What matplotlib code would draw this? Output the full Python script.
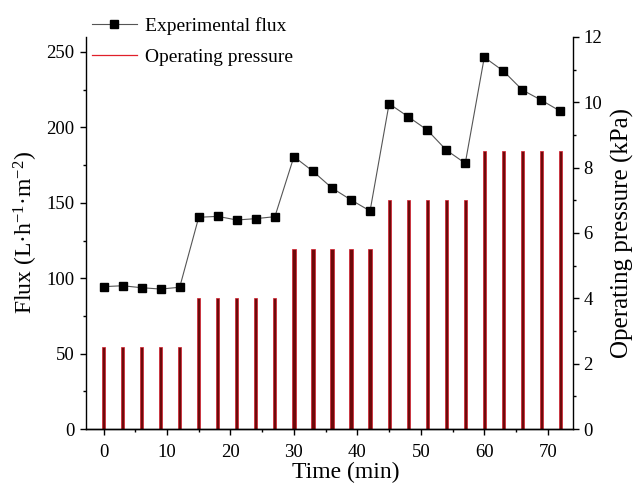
import matplotlib
matplotlib.use("Agg")
import matplotlib.pyplot as plt
from matplotlib.lines import Line2D
from matplotlib.ticker import MultipleLocator

plt.rcParams['font.family'] = ['Liberation Serif', 'DejaVu Serif']
plt.rcParams['mathtext.fontset'] = 'custom'
plt.rcParams['mathtext.rm'] = 'Liberation Serif'
plt.rcParams['mathtext.it'] = 'Liberation Serif:italic'

time_min = [0, 3, 6, 9, 12, 15, 18, 21, 24, 27, 30, 33, 36, 39, 42,
            45, 48, 51, 54, 57, 60, 63, 66, 69, 72]
flux = [94.4, 95.0, 93.7, 92.8, 94.0,
        140.4, 141.0, 138.6, 139.5, 140.8,
        180.6, 170.9, 159.8, 151.9, 144.6,
        215.7, 207.1, 198.3, 185.0, 176.2,
        246.5, 237.4, 224.8, 218.0, 210.7]
pressure = [2.5] * 5 + [4.0] * 5 + [5.5] * 5 + [7.0] * 5 + [8.5] * 5

fig = plt.figure(figsize=(6.34, 4.92), dpi=100)
ax1 = fig.add_axes([0.1353, 0.128, 0.7677, 0.797])
ax2 = ax1.twinx()

ax2.bar(time_min, pressure, width=0.5, color='#6e0a0a', edgecolor='#d41a2a',
        linewidth=0.5, zorder=2)
ax1.plot(time_min, flux, color='#555555', linewidth=0.8, marker='s',
         markersize=6, markerfacecolor='black', markeredgecolor='black', zorder=3)

ax1.set_zorder(ax2.get_zorder() + 1)
ax1.patch.set_visible(False)

ax1.set_xlim(-2.8, 73.9)
ax1.set_ylim(0, 260)
ax2.set_ylim(0, 12)

ax1.xaxis.set_major_locator(MultipleLocator(10))
ax1.xaxis.set_minor_locator(MultipleLocator(5))
ax1.yaxis.set_major_locator(MultipleLocator(50))
ax1.yaxis.set_minor_locator(MultipleLocator(25))
ax2.yaxis.set_major_locator(MultipleLocator(2))
ax2.yaxis.set_minor_locator(MultipleLocator(1))

for ax in (ax1, ax2):
    ax.spines['top'].set_visible(False)
    for s in ax.spines.values():
        s.set_linewidth(1.0)
    ax.tick_params(which='major', direction='out', length=4.5, width=1.0,
                   labelsize=13.5, pad=3.5)
    ax.tick_params(which='minor', direction='out', length=2.5, width=1.0)
ax1.spines['right'].set_visible(False)
ax2.spines['left'].set_visible(False)
ax1.tick_params(axis='x', pad=6)

ax1.set_xlabel('Time (min)', fontsize=17)
ax1.xaxis.set_label_coords(0.535, -0.085)
ax1.set_ylabel('Flux (L·h$^{-1}$·m$^{-2}$)', fontsize=17, labelpad=5)
ax2.set_ylabel('Operating pressure (kPa)', fontsize=18, labelpad=6)

handles = [
    Line2D([], [], color='#555555', linewidth=0.8, marker='s', markersize=6,
           markerfacecolor='black', markeredgecolor='black'),
    Line2D([], [], color='#e0202a', linewidth=0.9),
]
fig.legend(handles, ['Experimental flux', 'Operating pressure'],
           loc='upper left', bbox_to_anchor=(92 / 634, 1 - 17 / 492),
           frameon=False, fontsize=14, handlelength=2.3, handletextpad=0.45,
           labelspacing=0.7, borderpad=0, borderaxespad=0)

fig.savefig('out.png', dpi=100)
